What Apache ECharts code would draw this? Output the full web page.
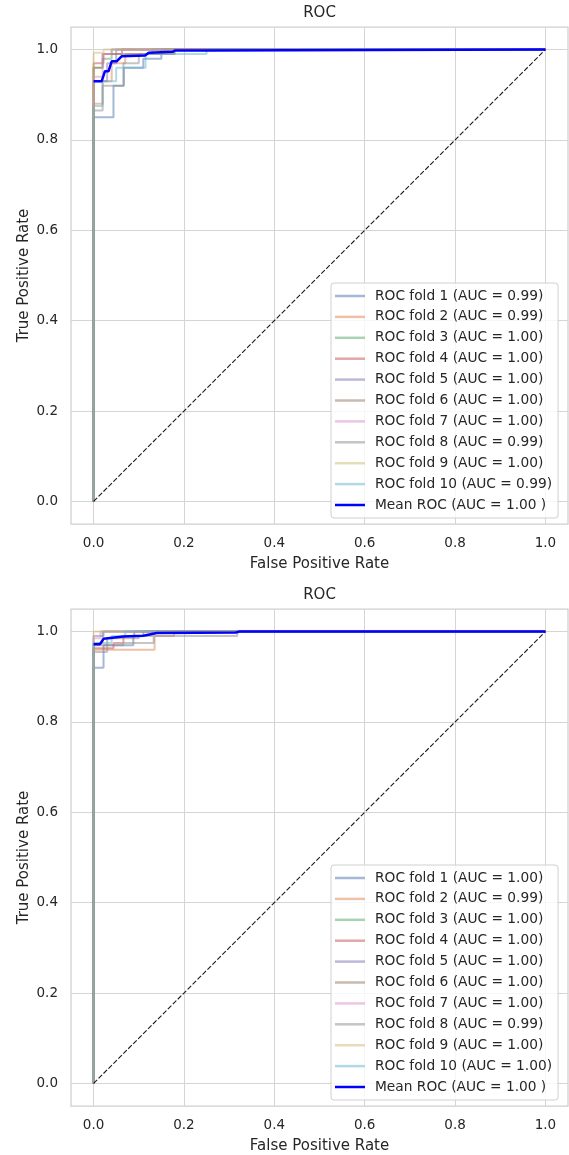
<!DOCTYPE html>
<html><head><meta charset="utf-8">
<script src="https://cdn.jsdelivr.net/npm/echarts@6/dist/echarts.min.js"></script>
<style>html,body{margin:0;padding:0;background:#fff}#c{width:569px;height:1155px}</style>
</head><body><div id="c"></div>
<script>
// ---- data ----
const foldColors = ['#4C72B0','#DD8452','#55A868','#C44E52','#8172B3','#937860','#DA8BC3','#8C8C8C','#CCB974','#64B5CD'];
const tickValues = [0, 0.2, 0.4, 0.6, 0.8, 1.0];
const topAuc = ['0.99','0.99','1.00','1.00','1.00','1.00','1.00','0.99','1.00','0.99'];
const bottomAuc = ['1.00','0.99','1.00','1.00','1.00','1.00','1.00','0.99','1.00','1.00'];
const meanLabel = 'Mean ROC (AUC = 1.00 )';

// top panel folds: [FPR, TPR] step corners
const topFold1 = [[0,0],[0,0.85],[0.044,0.92],[0.067,0.96],[0.11,0.98],[0.15,1],[1,1]];
const topFold2 = [[0,0],[0,0.88],[0.02,0.93],[0.04,0.97],[0.07,0.99],[0.178,1],[1,1]];
const topFold3 = [[0,0],[0,0.96],[0.02,0.98],[0.04,1],[1,1]];
const topFold4 = [[0,0],[0,0.97],[0.022,0.99],[0.063,1],[1,1]];
const topFold5 = [[0,0],[0,0.93],[0.03,0.97],[0.05,1],[1,1]];
const topFold6 = [[0,0],[0,0.96],[0.02,0.99],[0.18,1],[1,1]];
const topFold7 = [[0,0],[0,0.94],[0.02,0.99],[0.04,1],[1,1]];
const topFold8 = [[0,0],[0,0.865],[0.02,0.92],[0.066,0.97],[0.1,0.99],[0.13,1],[1,1]];
const topFold9 = [[0,0],[0,0.993],[0.022,1],[1,1]];
const topFold10 = [[0,0],[0,0.875],[0.02,0.93],[0.05,0.96],[0.115,0.99],[0.25,1],[1,1]];
const topMean = [[0,0.93],[0.018,0.93],[0.025,0.952],[0.033,0.952],[0.04,0.974],[0.051,0.974],[0.062,0.985],[0.114,0.987],[0.122,0.993],[0.175,0.995],[0.18,0.998],[0.248,0.998],[0.25,1],[1,1]];

// bottom panel folds
const bottomFold1 = [[0,0],[0,0.92],[0.022,0.97],[0.088,0.99],[0.11,1],[1,1]];
const bottomFold2 = [[0,0],[0,0.96],[0.135,0.99],[0.178,1],[1,1]];
const bottomFold3 = [[0,0],[0,0.975],[0.02,1],[1,1]];
const bottomFold4 = [[0,0],[0,0.963],[0.044,0.975],[0.066,0.99],[0.09,1],[1,1]];
const bottomFold5 = [[0,0],[0,0.99],[0.022,1],[1,1]];
const bottomFold6 = [[0,0],[0,0.97],[0.03,0.985],[0.1,0.99],[0.13,1],[1,1]];
const bottomFold7 = [[0,0],[0,0.985],[0.015,1],[1,1]];
const bottomFold8 = [[0,0],[0,0.955],[0.03,0.97],[0.066,0.975],[0.133,0.99],[0.318,1],[1,1]];
const bottomFold9 = [[0,0],[0,1],[1,1]];
const bottomFold10 = [[0,0],[0,0.975],[0.04,0.99],[0.07,1],[1,1]];
const bottomMean = [[0,0.972],[0.014,0.972],[0.022,0.984],[0.066,0.989],[0.11,0.991],[0.14,0.997],[0.315,0.998],[0.322,1],[1,1]];

const chanceLine = [[0,0],[1,1]];

// ---- build ----
const topFolds = [topFold1,topFold2,topFold3,topFold4,topFold5,topFold6,topFold7,topFold8,topFold9,topFold10];
const bottomFolds = [bottomFold1,bottomFold2,bottomFold3,bottomFold4,bottomFold5,bottomFold6,bottomFold7,bottomFold8,bottomFold9,bottomFold10];

const FONT = 'DejaVu Sans';
const TXT = '#262626';
function rgba(hex, a) {
  const r = parseInt(hex.slice(1,3),16), g = parseInt(hex.slice(3,5),16), b = parseInt(hex.slice(5,7),16);
  return `rgba(${r},${g},${b},${a})`;
}
const gridDefs = [{left:71, top:27, width:497, height:497}, {left:71, top:609, width:497, height:497}];

function makeX(i) {
  return {
    gridIndex: i, type: 'value', min: -0.05, max: 1.05,
    axisLine: {show: false}, axisTick: {show: false, customValues: tickValues},
    axisLabel: {customValues: tickValues, formatter: v => v.toFixed(1), margin: 12, fontSize: 13.5, color: TXT, fontFamily: FONT},
    splitLine: {show: true, lineStyle: {color: '#d5d5d5', width: 1}},
    name: 'False Positive Rate', nameLocation: 'middle', nameGap: 33,
    nameTextStyle: {fontSize: 15, color: TXT, fontFamily: FONT}
  };
}
function makeY(i) {
  return {
    gridIndex: i, type: 'value', min: -0.05, max: 1.05,
    axisLine: {show: false}, axisTick: {show: false, customValues: tickValues},
    axisLabel: {customValues: tickValues, formatter: v => v.toFixed(1), margin: 13, fontSize: 13.5, color: TXT, fontFamily: FONT},
    splitLine: {show: true, lineStyle: {color: '#d5d5d5', width: 1}},
    name: 'True Positive Rate', nameLocation: 'middle', nameGap: 39, nameRotate: 90, nameMoveOverlap: false,
    nameTextStyle: {fontSize: 15, color: TXT, fontFamily: FONT}
  };
}

const series = [];
const legends = [];
[[topFolds, topAuc, topMean], [bottomFolds, bottomAuc, bottomMean]].forEach(([folds, aucs, mean], gi) => {
  const names = [];
  folds.forEach((d, k) => {
    const name = `ROC fold ${k+1} (AUC = ${aucs[k]})`;
    names.push({name, icon: 'rect'});
    series.push({
      type: 'line', name, xAxisIndex: gi, yAxisIndex: gi, data: d, step: 'end',
      symbol: 'none', showSymbol: false, silent: true, z: 2,
      lineStyle: {color: rgba(foldColors[k], 0.5), width: 2},
      itemStyle: {color: rgba(foldColors[k], 0.5)}
    });
  });
  series.push({
    type: 'line', name: '__chance' + gi, xAxisIndex: gi, yAxisIndex: gi, data: chanceLine,
    symbol: 'none', silent: true, z: 3,
    lineStyle: {color: 'rgba(0,0,0,0.9)', width: 1.1, type: [5, 2]}
  });
  series.push({
    type: 'line', name: meanLabel, xAxisIndex: gi, yAxisIndex: gi, data: mean,
    symbol: 'none', showSymbol: false, silent: true, z: 4,
    lineStyle: {color: '#0000ff', width: 2.5},
    itemStyle: {color: '#0000ff'}
  });
  names.push({name: meanLabel, icon: 'rect'});
  legends.push({
    data: names, orient: 'vertical', left: 331, top: gi === 0 ? 283 : 865,
    icon: 'rect', itemWidth: 30, itemHeight: 2.5, itemGap: 4.9,
    padding: [5, 6, 5, 4],
    backgroundColor: 'rgba(255,255,255,0.8)', borderColor: '#d0d0d0', borderWidth: 1, borderRadius: 3,
    textStyle: {fontSize: 13.75, color: TXT, fontFamily: FONT, lineHeight: 16, padding: [0, 0, 0, 5]},
    selectedMode: false
  });
});

const chart = echarts.init(document.getElementById('c'), null, {renderer: 'canvas'});
chart.setOption({
  animation: false,
  backgroundColor: '#fff',
  textStyle: {fontFamily: FONT},
  title: [
    {text: 'ROC', left: 319.5, top: 6, textAlign: 'center', padding: 0, textStyle: {fontSize: 15, fontWeight: 'normal', color: TXT, fontFamily: FONT}},
    {text: 'ROC', left: 319.5, top: 588, textAlign: 'center', padding: 0, textStyle: {fontSize: 15, fontWeight: 'normal', color: TXT, fontFamily: FONT}}
  ],
  grid: gridDefs.map(g => Object.assign({show: true, borderColor: '#cfcfcf', borderWidth: 1.25, backgroundColor: '#fff', containLabel: false}, g)),
  xAxis: [makeX(0), makeX(1)],
  yAxis: [makeY(0), makeY(1)],
  legend: legends,
  series
});
</script>
</body></html>
